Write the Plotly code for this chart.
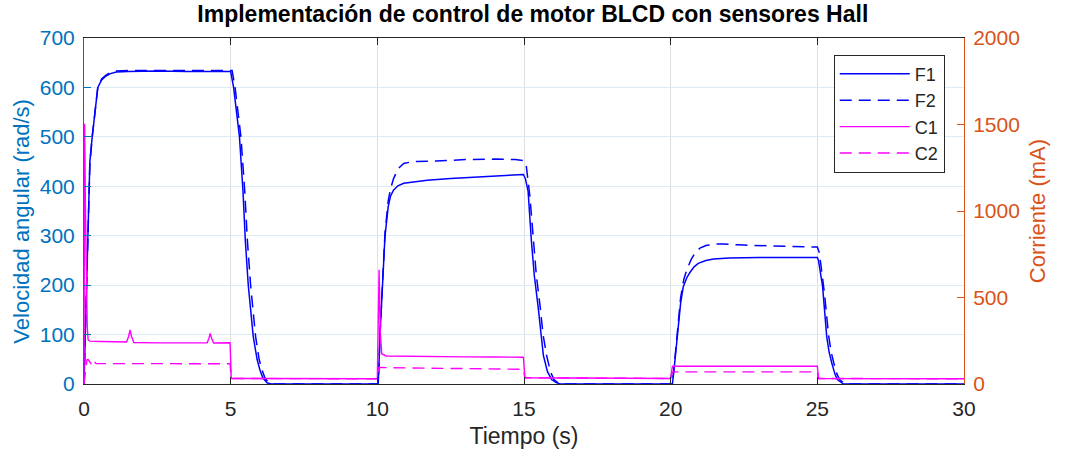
import plotly.graph_objects as go

# Velocidad angular (rad/s) - motor F1
t_f1 = [0, 0.05, 0.1, 0.15, 0.2, 0.28, 0.38, 0.47, 0.6, 0.75, 0.9, 1.1, 1.5, 2.5, 3.5, 4.5, 5.0,
        5.1, 5.3, 5.42, 5.5, 5.6, 5.77, 5.9, 6.0, 6.1, 6.25, 6.4,
        10.0, 10.03, 10.1, 10.18, 10.26, 10.37, 10.45, 10.55, 10.7, 10.9, 11.3, 11.7, 12.5, 13.4, 14.2, 14.98,
        15.05, 15.14, 15.25, 15.35, 15.48, 15.57, 15.66, 15.8, 15.94, 16.1, 16.23,
        20.0, 20.06, 20.15, 20.23, 20.34, 20.43, 20.55, 20.66, 20.8, 20.94, 21.2, 21.46, 22, 23, 24, 25.0,
        25.04, 25.1, 25.18, 25.32, 25.4, 25.49, 25.6, 25.68, 25.8, 25.89, 30]
v_f1 = [0, 120, 260, 390, 450, 500, 560, 600, 615, 623, 628, 631, 632, 633, 632, 633, 632,
        600, 500, 390, 290, 200, 96, 50, 28, 12, 2, 0,
        0, 0, 110, 204, 298, 359, 380, 392, 401, 406, 409, 412, 416, 419, 422, 424,
        415, 390, 291, 220, 157, 100, 58, 25, 9, 3, 0,
        0, 0, 50, 96, 164, 197, 215, 226, 237, 244, 250, 253, 255, 256, 256, 256,
        250, 225, 197, 96, 65, 43, 20, 9, 3, 0, 0]

# Velocidad angular (rad/s) - motor F2
t_f2 = [0, 0.05, 0.1, 0.15, 0.2, 0.28, 0.38, 0.47, 0.6, 0.75, 0.9, 1.1, 1.5, 2.5, 3.5, 4.5, 5.05,
        5.15, 5.35, 5.48, 5.57, 5.68, 5.85, 5.97, 6.07, 6.17, 6.3, 6.45,
        10.0, 10.03, 10.1, 10.18, 10.26, 10.37, 10.45, 10.55, 10.7, 10.9, 11.2, 12, 13, 14, 14.7, 15.0,
        15.08, 15.2, 15.31, 15.42, 15.55, 15.65, 15.77, 15.9, 16.02, 16.15, 16.28,
        20.0, 20.06, 20.15, 20.23, 20.34, 20.45, 20.55, 20.7, 20.83, 21.0, 21.2, 21.5, 21.8, 22.5, 23.5, 24.5, 25.0,
        25.07, 25.15, 25.25, 25.38, 25.47, 25.56, 25.67, 25.76, 25.88, 25.98, 30]
v_f2 = [0, 110, 250, 380, 445, 500, 560, 600, 617, 625, 630, 633, 634, 634, 634, 635, 634,
        600, 500, 390, 290, 200, 96, 50, 28, 12, 2, 0,
        0, 0, 110, 210, 305, 370, 395, 415, 435, 446, 450, 451, 454, 455, 454, 452,
        440, 380, 291, 220, 157, 100, 58, 25, 9, 3, 0,
        0, 0, 55, 105, 175, 212, 231, 252, 265, 275, 280, 283, 283, 281, 279, 278, 277,
        265, 230, 180, 100, 65, 43, 20, 9, 3, 0, 0]

# Corriente (mA) - motor C1
t_c1 = [0, 0.02, 0.05, 0.08, 0.11, 0.14, 0.2, 0.6, 1.0, 1.45, 1.52, 1.57, 1.62, 1.7, 2.5, 3.5,
        4.2, 4.26, 4.3, 4.35, 4.42, 4.98, 5.02, 10.0, 10.03, 10.06, 10.1, 10.15, 10.3, 11, 12, 13, 14,
        14.98, 15.03, 20.0, 20.06, 25.0, 25.04, 30]
i_c1 = [0, 1505, 1000, 550, 330, 255, 248, 246, 244, 243, 275, 312, 275, 240, 238, 237,
        238, 265, 292, 265, 237, 238, 32, 30, 300, 660, 300, 175, 162, 160, 158, 157, 156,
        155, 36, 32, 103, 103, 32, 30]

# Corriente (mA) - motor C2
t_c2 = [0, 0.1, 0.14, 0.19, 0.24, 0.28, 0.31, 0.36, 0.41, 1, 2, 3, 4, 4.98, 5.02, 10.0, 10.05,
        11, 12, 13, 14, 14.98, 15.03, 20.0, 20.06, 25.0, 25.04, 30]
i_c2 = [0, 140, 141, 125, 118, 125, 141, 128, 118, 118, 117, 117, 117, 117, 32, 30, 95,
        93, 90, 88, 86, 85, 36, 32, 70, 70, 32, 30]

x_ticks = [0, 5, 10, 15, 20, 25, 30]
y_left_ticks = [0, 100, 200, 300, 400, 500, 600, 700]
y_right_ticks = [0, 500, 1000, 1500, 2000]

BLUE_AX = "#0072BD"
ORANGE_AX = "#D95319"
FONT = "Liberation Sans, Arial, Helvetica, sans-serif"
DASH = "12px,7px"

fig = go.Figure()
fig.add_trace(go.Scatter(x=t_f1, y=v_f1, name="F1", mode="lines",
                         line=dict(color="#0000FF", width=1.5), yaxis="y"))
fig.add_trace(go.Scatter(x=t_f2, y=v_f2, name="F2", mode="lines",
                         line=dict(color="#0000FF", width=1.5, dash=DASH), yaxis="y"))
fig.add_trace(go.Scatter(x=t_c1, y=i_c1, name="C1", mode="lines",
                         line=dict(color="#FF00FF", width=1.4), yaxis="y2"))
fig.add_trace(go.Scatter(x=t_c2, y=i_c2, name="C2", mode="lines",
                         line=dict(color="#FF00FF", width=1.4, dash=DASH), yaxis="y2"))

fig.update_layout(
    width=1065, height=458,
    margin=dict(l=84, r=101, t=38, b=74, autoexpand=False),
    paper_bgcolor="white", plot_bgcolor="white",
    font=dict(family=FONT, color="#262626"),
    title=dict(text="<b>Implementación de control de motor BLCD con sensores Hall</b>",
               x=0.51, xref="paper", xanchor="center", y=1, yref="container", yanchor="top",
               pad=dict(t=6),
               font=dict(size=23, color="black", family=FONT)),
    showlegend=True,
    legend=dict(x=0.852, y=0.952, xanchor="left", yanchor="top",
                bgcolor="white", bordercolor="#262626", borderwidth=1,
                font=dict(size=18, color="#262626", family=FONT),
                itemwidth=70, tracegroupgap=0),
    xaxis=dict(range=[0, 30], tickvals=x_ticks, ticks="inside", ticklen=7, tickcolor="#262626",
               showline=True, linecolor="#262626", linewidth=1, mirror="ticks",
               showgrid=True, gridcolor="#dfdfdf", gridwidth=1, zeroline=False,
               tickfont=dict(size=21, color="#262626"), ticklabelstandoff=6,
               title=dict(text="Tiempo (s)", font=dict(size=23, color="#262626"), standoff=8),
               automargin=False),
    yaxis=dict(range=[0, 700], tickvals=y_left_ticks, ticks="inside", ticklen=7, tickcolor=BLUE_AX,
               showline=True, linecolor=BLUE_AX, linewidth=1,
               showgrid=True, gridcolor="#dcebf6", gridwidth=1, zeroline=False,
               tickfont=dict(size=21, color=BLUE_AX), ticklabelstandoff=4,
               automargin=False),
    yaxis2=dict(range=[0, 2000], tickvals=y_right_ticks, ticks="inside", ticklen=7, tickcolor=ORANGE_AX,
                overlaying="y", side="right", anchor="x",
                showline=True, linecolor=ORANGE_AX, linewidth=1,
                showgrid=False, zeroline=False,
                tickfont=dict(size=21, color=ORANGE_AX), ticklabelstandoff=4,
                title=dict(text="Corriente (mA)", font=dict(size=22, color=ORANGE_AX), standoff=10),
                automargin=False),
    annotations=[dict(text="Velocidad angular (rad/s)", textangle=-90, showarrow=False,
                      xref="paper", yref="paper", x=-0.0705, y=0.472,
                      xanchor="center", yanchor="middle",
                      font=dict(size=22, color=BLUE_AX, family=FONT))],
)

fig.write_html("out.html")
